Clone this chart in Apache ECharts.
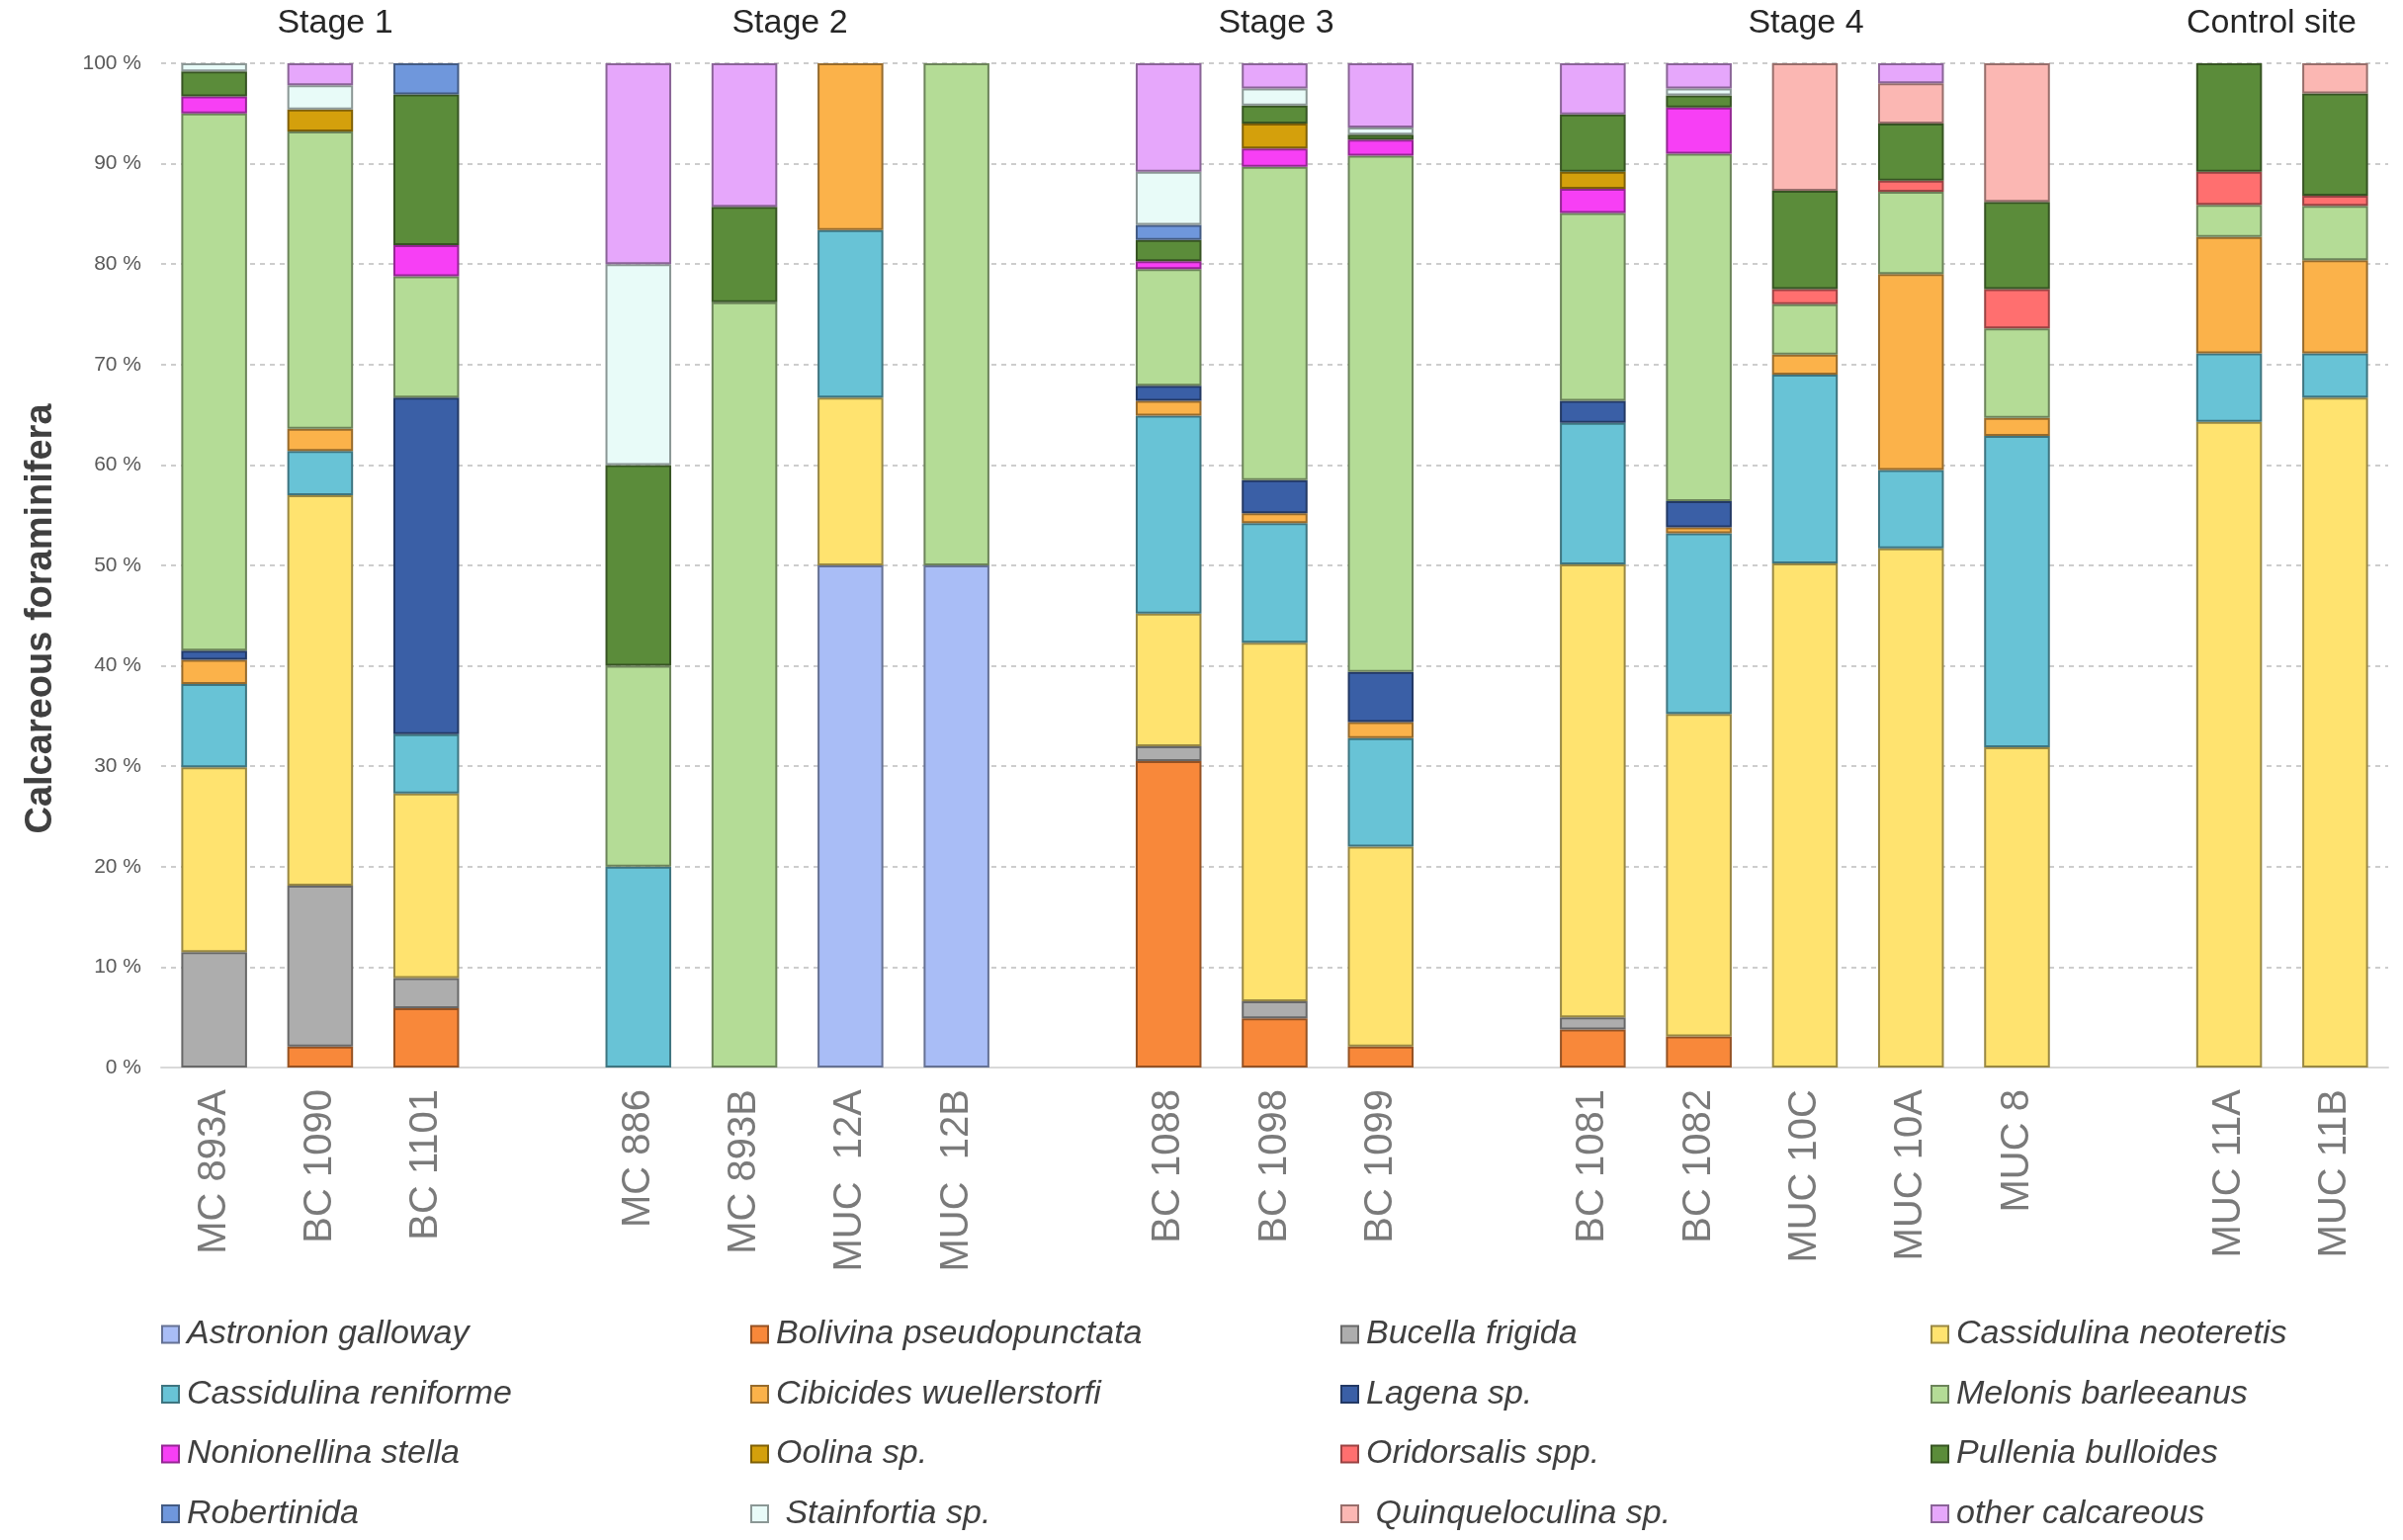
<!DOCTYPE html>
<html>
<head>
	<meta charset="utf-8" />
	<script src="https://cdn.jsdelivr.net/npm/echarts@6/dist/echarts.min.js"></script>
	<style>
		body { margin: 0; background: #fff; }
	</style>
</head>
<body>
	<div id="main" style="width: 2431px;height:1558px;"></div>

	<script type="text/javascript">
		// samples, with empty slots between the stages
		var categories = ['MC 893A', 'BC 1090', 'BC 1101', ' ',
			'MC 886', 'MC 893B', 'MUC  12A', 'MUC  12B', '  ',
			'BC 1088', 'BC 1098', 'BC 1099', '   ',
			'BC 1081', 'BC 1082', 'MUC 10C', 'MUC 10A', 'MUC 8', '    ',
			'MUC 11A', 'MUC 11B'];

		var stageNames = ['Stage 1', 'Stage 2', 'Stage 3', 'Stage 4', 'Control site'];

		var yTicks = [0, 10, 20, 30, 40, 50, 60, 70, 80, 90, 100];

		// percentages per taxon (null = empty slot)
		var astronion    = [0, 0, 0, null, 0, 0, 50, 50, null, 0, 0, 0, null, 0, 0, 0, 0, 0, null, 0, 0];
		var bolivina     = [0, 2.1, 5.9, null, 0, 0, 0, 0, null, 30.5, 4.9, 2.1, null, 3.8, 3.1, 0, 0, 0, null, 0, 0];
		var bucella      = [11.5, 16.0, 3.0, null, 0, 0, 0, 0, null, 1.5, 1.7, 0, null, 1.2, 0, 0, 0, 0, null, 0, 0];
		var cNeoteretis  = [18.4, 38.9, 18.4, null, 0, 0, 16.7, 0, null, 13.2, 35.7, 19.9, null, 45.1, 32.1, 50.2, 51.7, 31.9, null, 64.3, 66.7];
		var cReniforme   = [8.3, 4.4, 5.9, null, 20, 0, 16.7, 0, null, 19.7, 11.9, 10.8, null, 14.1, 18.0, 18.8, 7.8, 31.0, null, 6.8, 4.4];
		var cibicides    = [2.4, 2.2, 0, null, 0, 0, 16.6, 0, null, 1.5, 1.0, 1.6, null, 0, 0.6, 2.0, 19.5, 1.8, null, 11.6, 9.3];
		var lagena       = [0.9, 0, 33.5, null, 0, 0, 0, 0, null, 1.5, 3.3, 5.0, null, 2.2, 2.6, 0, 0, 0, null, 0, 0];
		var melonis      = [53.5, 29.6, 12.1, null, 20, 76.2, 0, 50, null, 11.6, 31.2, 51.4, null, 18.7, 34.6, 5.0, 8.2, 8.9, null, 3.2, 5.4];
		var nonionellina = [1.7, 0, 3.1, null, 0, 0, 0, 0, null, 0.8, 1.8, 1.6, null, 2.4, 4.6, 0, 0, 0, null, 0, 0];
		var oolina       = [0, 2.2, 0, null, 0, 0, 0, 0, null, 0, 2.5, 0, null, 1.7, 0, 0, 0, 0, null, 0, 0];
		var oridorsalis  = [0, 0, 0, null, 0, 0, 0, 0, null, 0, 0, 0, null, 0, 0, 1.5, 1.1, 3.9, null, 3.3, 1.0];
		var pullenia     = [2.5, 0, 15.0, null, 20, 9.5, 0, 0, null, 2.1, 1.8, 0.5, null, 5.7, 1.2, 9.8, 5.7, 8.7, null, 10.8, 10.2];
		var robertinida  = [0, 0, 3.1, null, 0, 0, 0, 0, null, 1.5, 0, 0, null, 0, 0, 0, 0, 0, null, 0, 0];
		var stainfortia  = [0.8, 2.4, 0, null, 20, 0, 0, 0, null, 5.3, 1.7, 0.7, null, 0, 0.7, 0, 0, 0, null, 0, 0];
		var quinquelocul = [0, 0, 0, null, 0, 0, 0, 0, null, 0, 0, 0, null, 0, 0, 12.7, 4.0, 13.8, null, 0, 3.0];
		var otherCalc    = [0, 2.2, 0, null, 20, 14.3, 0, 0, null, 10.8, 2.5, 6.4, null, 5.1, 2.5, 0, 2.0, 0, null, 0, 0];

		var taxa = [
			['Astronion galloway', astronion, '#a9bdf6'],
			['Bolivina pseudopunctata', bolivina, '#f8883a'],
			['Bucella frigida', bucella, '#adadad'],
			['Cassidulina neoteretis', cNeoteretis, '#ffe36f'],
			['Cassidulina reniforme', cReniforme, '#68c3d6'],
			['Cibicides wuellerstorfi', cibicides, '#fbb24a'],
			['Lagena sp.', lagena, '#3a5fa6'],
			['Melonis barleeanus', melonis, '#b4dc96'],
			['Nonionellina stella', nonionellina, '#f73ff5'],
			['Oolina sp.', oolina, '#d4a00c'],
			['Oridorsalis spp.', oridorsalis, '#ff6f6f'],
			['Pullenia bulloides', pullenia, '#5b8c3a'],
			['Robertinida', robertinida, '#6f97dc'],
			[' Stainfortia sp.', stainfortia, '#e8fbf8'],
			[' Quinqueloculina sp.', quinquelocul, '#fbb7b3'],
			['other calcareous', otherCalc, '#e6a7fb']
		];

		var font = 'Liberation Sans, Arial, sans-serif';

		// darker shade of a hex colour, for the bar outlines
		function darken(hex, k) {
			var n = parseInt(hex.slice(1), 16);
			var r = Math.round(((n >> 16) & 255) * k);
			var g = Math.round(((n >> 8) & 255) * k);
			var b = Math.round((n & 255) * k);
			return 'rgb(' + r + ',' + g + ',' + b + ')';
		}

		var myChart = echarts.init(document.getElementById('main'));

		var series = taxa.map(function (t) {
			return {
				name: t[0],
				type: 'bar',
				stack: 'all',
				barWidth: '62%',
				itemStyle: {
					color: t[2],
					borderColor: darken(t[2], 0.6),
					borderWidth: 2
				},
				data: t[1].map(function (v) { return v ? v : null; })
			};
		});

		// legend: four columns of four rows
		var colLeft = [163, 759, 1356, 1953];
		var legends = colLeft.map(function (x, c) {
			var names = [];
			for (var r = 0; r < 4; r++) names.push(taxa[r * 4 + c][0]);
			return {
				orient: 'vertical',
				left: x,
				top: 1332,
				padding: 0,
				itemWidth: 17,
				itemHeight: 17,
				itemGap: 24.5,
				icon: 'rect',
				textStyle: {
					fontFamily: font,
					fontSize: 34,
					fontStyle: 'italic',
					color: '#404040',
					lineHeight: 36,
					padding: [0, 0, 0, 3]
				},
				data: names
			};
		});

		var stageX = [339, 799, 1291, 1827, 2298];
		var graphics = stageNames.map(function (s, i) {
			return {
				type: 'text',
				x: stageX[i],
				y: 24,
				style: {
					text: s,
					font: '34px ' + font,
					fill: '#262626',
					textAlign: 'center',
					textVerticalAlign: 'middle'
				}
			};
		});
		graphics.push({
			type: 'text',
			x: 42,
			y: 626,
			rotation: Math.PI / 2,
			style: {
				text: 'Calcareous foraminifera',
				font: 'bold 38px ' + font,
				fill: '#404040',
				textAlign: 'center',
				textVerticalAlign: 'middle'
			}
		});

		var option = {
			animation: false,
			grid: { left: 163, right: 15, top: 64, bottom: 478 },
			legend: legends,
			graphic: graphics,
			xAxis: {
				type: 'category',
				data: categories,
				axisLine: { lineStyle: { color: '#d9d9d9', width: 2 } },
				axisTick: { show: false },
				axisLabel: {
					interval: 0,
					rotate: 90,
					margin: 22,
					fontFamily: font,
					fontSize: 40,
					color: '#7a7a7a'
				}
			},
			yAxis: {
				type: 'value',
				min: yTicks[0],
				max: yTicks[yTicks.length - 1],
				interval: yTicks[1] - yTicks[0],
				axisLine: { show: false },
				axisTick: { show: false },
				axisLabel: {
					formatter: '{value} %',
					margin: 20,
					fontFamily: font,
					fontSize: 21,
					color: '#595959'
				},
				splitLine: { lineStyle: { type: [5, 5], color: '#bdbdbd', width: 1.5 } }
			},
			series: series
		};

		myChart.setOption(option);
	</script>
</body>
</html>
